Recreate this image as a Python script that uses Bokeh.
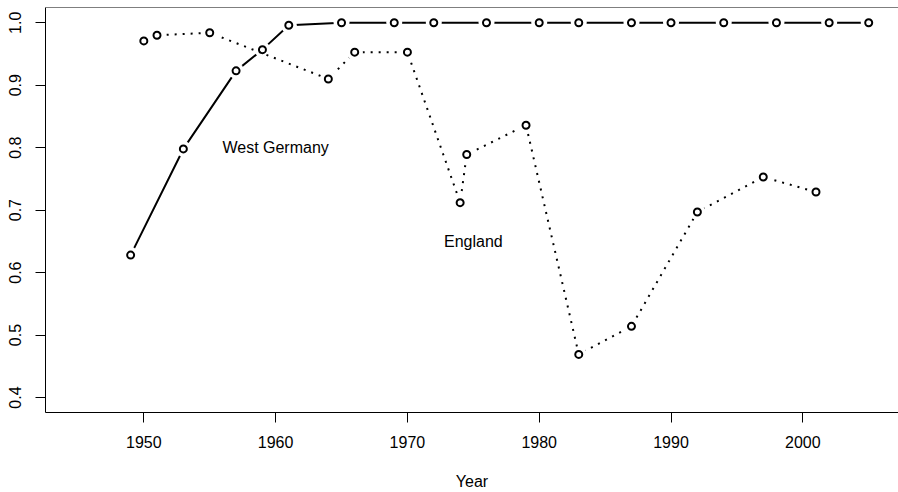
from bokeh.plotting import figure
from bokeh.models import FixedTicker, Span, Range1d, ColumnDataSource
from bokeh.core.properties import value
from bokeh.embed import file_html
from bokeh.resources import INLINE

# West Germany (solid line)
wg_year = [1949, 1953, 1957, 1959, 1961, 1965, 1969, 1972, 1976, 1980,
           1983, 1987, 1990, 1994, 1998, 2002, 2005]
wg_share = [0.628, 0.798, 0.923, 0.957, 0.996, 1.0, 1.0, 1.0, 1.0, 1.0,
            1.0, 1.0, 1.0, 1.0, 1.0, 1.0, 1.0]

# England (dotted line)
en_year = [1950, 1951, 1955, 1964, 1966, 1970, 1974, 1974.5, 1979, 1983,
           1987, 1992, 1997, 2001]
en_share = [0.971, 0.980, 0.984, 0.910, 0.953, 0.953, 0.712, 0.789, 0.836,
            0.469, 0.514, 0.697, 0.753, 0.729]

x_ticks = [1950, 1960, 1970, 1980, 1990, 2000]
y_ticks = [0.4, 0.5, 0.6, 0.7, 0.8, 0.9, 1.0]
y_tick_labels = ["0.4", "0.5", "0.6", "0.7", "0.8", "0.9", "1.0"]

label_text = ["West Germany", "England"]
label_x = [1960, 1975]
label_y = [0.8, 0.65]

FONT = "Liberation Sans"
Y_END = 1.02445

p = figure(width=898, height=492, output_backend="svg", toolbar_location=None,
           x_range=Range1d(1942.54, 2007.26), y_range=Range1d(0.376, Y_END),
           min_border_left=45, min_border_right=0, min_border_top=7,
           min_border_bottom=79)
p.outline_line_color = None
p.xgrid.visible = False
p.ygrid.visible = False
p.background_fill_color = "white"
p.border_fill_color = "white"

# top border of the box
p.add_layout(Span(location=Y_END, dimension="width", line_color="black",
                  line_width=1))

for ax in (p.xaxis[0], p.yaxis[0]):
    ax.axis_line_color = "black"
    ax.axis_line_width = 1
    ax.major_tick_line_color = "black"
    ax.major_tick_line_width = 1
    ax.major_tick_out = 10
    ax.major_tick_in = 0
    ax.minor_tick_line_color = None
    ax.major_label_text_font = FONT
    ax.major_label_text_font_size = "16px"
    ax.major_label_text_color = "black"

p.xaxis[0].ticker = FixedTicker(ticks=x_ticks)
p.xaxis[0].major_label_standoff = 13
p.xaxis[0].axis_label = "Year"
p.xaxis[0].axis_label_text_font = FONT
p.xaxis[0].axis_label_text_font_size = "16px"
p.xaxis[0].axis_label_text_font_style = "normal"
p.xaxis[0].axis_label_text_color = "black"
p.xaxis[0].axis_label_standoff = 22

p.yaxis[0].ticker = FixedTicker(ticks=y_ticks)
p.yaxis[0].major_label_overrides = {t: l for t, l in zip(y_ticks, y_tick_labels)}
p.yaxis[0].major_label_orientation = "vertical"
p.yaxis[0].major_label_standoff = 14

wg = ColumnDataSource(dict(x=wg_year, y=wg_share))
en = ColumnDataSource(dict(x=en_year, y=en_share))

# West Germany
p.line("x", "y", source=wg, line_color="black", line_width=2)
p.scatter("x", "y", source=wg, size=16, fill_color="white", line_color=None)
p.scatter("x", "y", source=wg, size=7, fill_color="white", line_color="black",
          line_width=2)

# England
p.line("x", "y", source=en, line_color="black", line_width=2, line_dash="2 6")
p.scatter("x", "y", source=en, size=16, fill_color="white", line_color=None)
p.scatter("x", "y", source=en, size=7, fill_color="white", line_color="black",
          line_width=2)

p.text(x=label_x, y=label_y, text=label_text, text_font=value(FONT),
       text_font_size="16px", text_align="center", text_baseline="middle",
       text_color="black")

open("out.html", "w").write(file_html(p, INLINE))
